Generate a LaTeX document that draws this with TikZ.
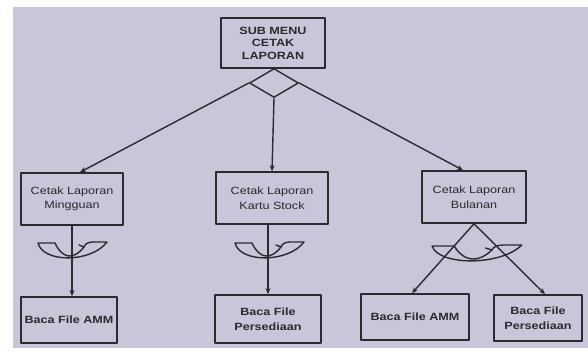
\documentclass[tikz,border=0pt]{standalone}
\usepackage{fontspec}
\setmainfont[FakeStretch=1.2]{Liberation Sans}
\usepackage{tikz}
\usetikzlibrary{
    arrows.meta,
    positioning,
    calc,
    shapes.geometric
}
\definecolor{ink}    {HTML}{2B2A31}
\definecolor{paper}  {HTML}{C9C6D9}

\tikzset{
    loopsym/.pic = {
        \draw[ink, line width=1.4pt]
            (-33,-7) .. controls (-28,13) and (20,13) .. (36,-8)
            -- (22,-8) .. controls (17,-8) and (14,-6) .. (13,-3)
            .. controls (8,3) and (4,6) .. (-2,6)
            .. controls (-6,6) and (-12,2) .. (-16,-7) -- cycle;
        \draw[ink, line width=1.4pt] (13,-3) -- (8,-5);
    }
}

\begin{document}
\begin{tikzpicture}[
    x=1pt, y=-1pt,
    line cap=round, line join=round,
    >={Stealth[length=6pt, width=5pt]},
    %% --- styles ---
    menubox/.style  = {rectangle, draw=ink, line width=1.6pt, text=ink,
                       align=center, inner sep=2pt,
                       font=\fontsize{10.5}{12.5}\selectfont\bfseries},
    cetakbox/.style = {rectangle, draw=ink, line width=1.6pt, text=ink,
                       align=center, inner sep=2pt,
                       font=\fontsize{10.5}{14.5}\selectfont},
    bacabox/.style  = {rectangle, draw=ink, line width=1.6pt, text=ink,
                       align=center, inner sep=2pt,
                       font=\fontsize{10.5}{14.5}\selectfont\bfseries},
    flow/.style     = {->, draw=ink, line width=1.4pt}
]

% paper
\useasboundingbox (0,0) rectangle (588,351);
\fill[white] (0,0) rectangle (588,351);
\fill[paper] (13,7) rectangle (588,348);

%% =====================================================
%% Sub menu
%% =====================================================
\node[menubox, minimum width=104pt, minimum height=50pt] (MENU) at (273,43)
    {SUB MENU\\CETAK\\LAPORAN};
\node[diamond, draw=ink, line width=1.4pt, inner sep=0pt, aspect=1.7,
      minimum width=49pt, minimum height=29pt] (SEL) at (274,83) {};

%% =====================================================
%% Cetak laporan
%% =====================================================
\node[cetakbox, minimum width=102pt, minimum height=52pt] (MGG) at (72,199)
    {Cetak Laporan\\Mingguan};
\node[cetakbox, minimum width=112pt, minimum height=52pt] (KST) at (272,198)
    {Cetak Laporan\\Kartu Stock};
\node[cetakbox, minimum width=104pt, minimum height=52pt] (BLN) at (474,197)
    {Cetak Laporan\\Bulanan};

\draw[flow] (SEL.west)  -- ([xshift=8pt]MGG.north);
\draw[flow] (SEL.south) -- (KST.north);
\draw[flow] (SEL.east)  -- ([xshift=-11pt]BLN.north);

%% =====================================================
%% Baca file
%% =====================================================
\node[bacabox, minimum width=96pt, minimum height=46pt] (AMM1) at (69,320)
    {Baca File AMM};
\node[bacabox, minimum width=106pt, minimum height=48pt] (PSD1) at (268,319)
    {Baca File\\Persediaan};
\node[bacabox, minimum width=108pt, minimum height=46pt] (AMM2) at (415,317)
    {Baca File AMM};
\node[bacabox, minimum width=88pt, minimum height=46pt] (PSD2) at (538,318)
    {Baca File\\Persediaan};

\draw[flow] (MGG.south) -- (MGG.south |- AMM1.north);
\draw[flow] ([xshift=-4pt]KST.south) -- ([xshift=-4pt]KST.south |- PSD1.north);
\draw[flow] (BLN.south) -- ([xshift=-3pt]AMM2.north);
\draw[flow] (BLN.south) -- ([xshift=7pt]PSD2.north);

% iteration marks
\pic at (71,250) {loopsym};
\pic at (268,250) {loopsym};
\pic[xscale=1.3] at (475,253) {loopsym};

\end{tikzpicture}
\end{document}
